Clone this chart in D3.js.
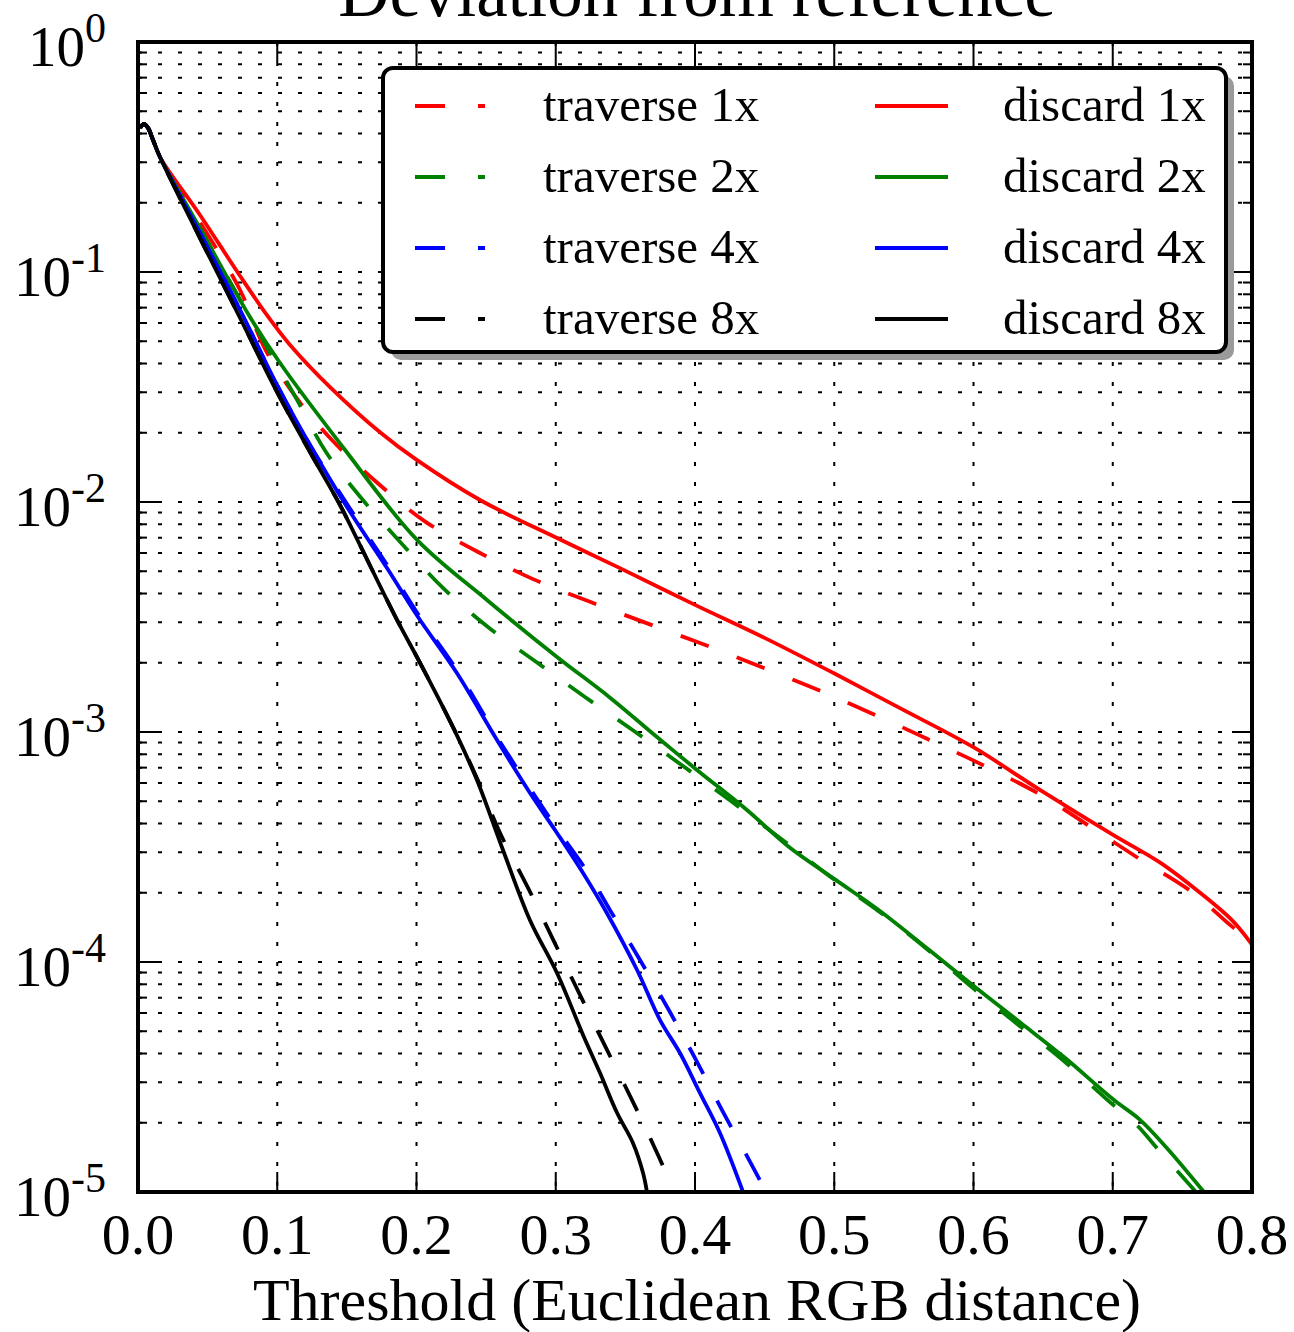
<!DOCTYPE html>
<html>
<head>
<meta charset="utf-8">
<script src="https://cdn.jsdelivr.net/npm/d3@7"></script>
<style>
  body { margin: 0; background: #fff; }
  svg text { font-family: "Liberation Serif", "Times New Roman", serif; fill: #000; }
</style>
</head>
<body>
<svg id="chart"></svg>
<script>
// shared start of every curve
const head = [[0.0014, 0.423], [0.0043, 0.44], [0.0072, 0.423], [0.0108, 0.375], [0.0158, 0.316]];

const traverse1x = head.concat([
  [0.0445, 0.165], [0.0733, 0.0835], [0.0912, 0.0463], [0.1149, 0.0278], [0.1415, 0.018],
  [0.1745, 0.01174], [0.2068, 0.00818], [0.2456, 0.006], [0.2837, 0.00462], [0.3232, 0.00371],
  [0.3727, 0.00286], [0.4129, 0.00232], [0.4531, 0.00186], [0.4934, 0.00148], [0.5329, 0.00116],
  [0.5716, 0.000905], [0.6097, 0.000704], [0.6485, 0.000532], [0.6851, 0.000383], [0.7203, 0.000278],
  [0.7576, 0.0002], [0.7842, 0.000145], [0.8, 0.000122]
]);
const discard1x = head.concat([
  [0.0445, 0.177], [0.0733, 0.0961], [0.0926, 0.065], [0.1092, 0.0482], [0.1379, 0.0316],
  [0.1738, 0.0201], [0.2004, 0.0152], [0.2456, 0.0102], [0.3009, 0.00697], [0.3461, 0.00516],
  [0.4, 0.00357], [0.4503, 0.00256], [0.4998, 0.0018], [0.5472, 0.00127], [0.5996, 0.000861],
  [0.6477, 0.00056], [0.7002, 0.000357], [0.7346, 0.000269], [0.7627, 0.0002], [0.7856, 0.000152],
  [0.8, 0.000119]
]);
const traverse2x = head.concat([
  [0.0445, 0.155], [0.0804, 0.0637], [0.102, 0.0375], [0.1142, 0.0278], [0.135, 0.0165],
  [0.1609, 0.0103], [0.1896, 0.00657], [0.219, 0.00423], [0.2513, 0.00286], [0.2858, 0.00202],
  [0.321, 0.00142], [0.3562, 0.00101], [0.3914, 0.000711], [0.4258, 0.000501], [0.4675, 0.000323],
  [0.5013, 0.000225], [0.5321, 0.000166], [0.568, 0.000112], [0.5996, 0.000077], [0.6327, 0.000053],
  [0.6636, 0.0000377], [0.698, 0.0000246], [0.7167, 0.0000197], [0.7339, 0.000015], [0.7598, 0.00001]
]);
const discard2x = head.concat([
  [0.0445, 0.155], [0.0804, 0.0637], [0.102, 0.0402], [0.1472, 0.0173], [0.2004, 0.00684],
  [0.2506, 0.00375], [0.3009, 0.00212], [0.339, 0.00141], [0.3727, 0.000951], [0.4014, 0.000684],
  [0.4373, 0.000458], [0.4675, 0.000316], [0.5013, 0.000227], [0.5321, 0.000168], [0.568, 0.000113],
  [0.6011, 0.0000779], [0.6341, 0.0000543], [0.665, 0.0000386], [0.7009, 0.0000251], [0.7196, 0.0000206],
  [0.7382, 0.0000157], [0.7655, 0.00001]
]);
const traverse4x = head.concat([
  [0.0445, 0.1478], [0.0733, 0.0684], [0.0998, 0.0323], [0.1235, 0.0177], [0.1515, 0.00951],
  [0.1803, 0.00516], [0.2025, 0.00316], [0.2305, 0.0018], [0.2592, 0.000923], [0.2837, 0.000543],
  [0.303, 0.000364], [0.3232, 0.000244], [0.339, 0.000168], [0.3605, 0.000102], [0.382, 0.0000606],
  [0.4007, 0.0000375], [0.4194, 0.0000227], [0.4388, 0.0000138], [0.451, 0.00001]
]);
const discard4x = head.concat([
  [0.0445, 0.1478], [0.0733, 0.0684], [0.0998, 0.0323], [0.1235, 0.0177], [0.1501, 0.00951],
  [0.1788, 0.00516], [0.2011, 0.00316], [0.2291, 0.0018], [0.2578, 0.000923], [0.2815, 0.000543],
  [0.3009, 0.000364], [0.3196, 0.000244], [0.3368, 0.000163], [0.3584, 0.0000923], [0.3749, 0.0000559],
  [0.3892, 0.0000402], [0.4036, 0.0000269], [0.418, 0.000018], [0.4345, 0.00001]
]);
const traverse8x = head.concat([
  [0.0445, 0.1405], [0.0733, 0.0631], [0.0998, 0.0301], [0.1235, 0.0165], [0.1451, 0.0097],
  [0.1594, 0.0065], [0.186, 0.00307], [0.2025, 0.002], [0.2262, 0.00105], [0.2434, 0.000631],
  [0.26, 0.000364], [0.2801, 0.00021], [0.2987, 0.000123], [0.3174, 0.0000719], [0.3361, 0.0000423],
  [0.3555, 0.0000246], [0.3741, 0.0000142], [0.3849, 0.00001]
]);
const discard8x = head.concat([
  [0.0445, 0.1405], [0.0733, 0.0631], [0.0998, 0.0301], [0.1235, 0.0165], [0.1451, 0.0097],
  [0.1594, 0.0065], [0.186, 0.00307], [0.2025, 0.002], [0.2262, 0.00105], [0.2434, 0.000618],
  [0.2621, 0.000307], [0.2815, 0.000152], [0.3009, 0.0000896], [0.3196, 0.0000482], [0.3318, 0.0000329],
  [0.344, 0.0000221], [0.3555, 0.0000163], [0.3627, 0.0000121], [0.3655, 0.00001]
]);

const seriesNames = ['traverse 1x', 'discard 1x', 'traverse 2x', 'discard 2x',
  'traverse 4x', 'discard 4x', 'traverse 8x', 'discard 8x'];
const seriesData = [traverse1x, discard1x, traverse2x, discard2x, traverse4x, discard4x, traverse8x, discard8x];
const seriesColors = ['#ff0000', '#ff0000', '#008000', '#008000', '#0000ff', '#0000ff', '#000000', '#000000'];
const seriesDashed = [true, false, true, false, true, false, true, false];

const xTicks = [0, 0.1, 0.2, 0.3, 0.4, 0.5, 0.6, 0.7, 0.8];
const yMajor = [1, 1e-1, 1e-2, 1e-3, 1e-4, 1e-5];

const titleText = 'Deviation from reference';
const xLabel = 'Threshold (Euclidean RGB distance)';

const W = 1294, H = 1332;
const margin = { top: 42, right: 42, bottom: 140, left: 138 };

const svg = d3.select('#chart').attr('width', W).attr('height', H);

const x = d3.scaleLinear().domain([0, 0.8]).range([margin.left, W - margin.right]);
const y = d3.scaleLog().domain([1e-5, 1]).range([H - margin.bottom, margin.top]);
const [x0, x1] = x.range();
const [y0, y1] = [y.range()[1], y.range()[0]];

svg.append('defs').append('clipPath').attr('id', 'plot')
  .append('rect').attr('x', x0).attr('y', y0).attr('width', x1 - x0).attr('height', y1 - y0);

/* grid */
const yAll = y.ticks();
svg.append('g').selectAll('line').data(yAll).enter().append('line')
  .attr('x1', x0).attr('x2', x1)
  .attr('y1', d => y(d)).attr('y2', d => y(d))
  .attr('stroke', '#000').attr('stroke-width', 2).attr('stroke-dasharray', '4,16');
svg.append('g').selectAll('line').data(xTicks.slice(1, -1)).enter().append('line')
  .attr('x1', d => x(d)).attr('x2', d => x(d))
  .attr('y1', y0).attr('y2', y1)
  .attr('stroke', '#000').attr('stroke-width', 2).attr('stroke-dasharray', '4,16');

/* curves */
const line = d3.line().x(d => x(d[0])).y(d => y(d[1])).curve(d3.curveCatmullRom.alpha(0.5));
svg.append('g').attr('clip-path', 'url(#plot)')
  .selectAll('path').data(seriesData).enter().append('path')
  .attr('d', line)
  .attr('fill', 'none')
  .attr('stroke', (d, i) => seriesColors[i])
  .attr('stroke-width', 3.8)
  .attr('stroke-dasharray', (d, i) => seriesDashed[i] ? '30,30' : null);

/* ticks */
const isMajor = v => Math.abs(Math.log10(v) - Math.round(Math.log10(v))) < 1e-6;
const tg = svg.append('g').attr('stroke', '#000').attr('stroke-width', 2);
yAll.forEach(v => {
  const len = isMajor(v) ? 20 : 9;
  tg.append('line').attr('x1', x0).attr('x2', x0 + len).attr('y1', y(v)).attr('y2', y(v));
  tg.append('line').attr('x1', x1).attr('x2', x1 - len).attr('y1', y(v)).attr('y2', y(v));
});
xTicks.forEach(v => {
  tg.append('line').attr('x1', x(v)).attr('x2', x(v)).attr('y1', y1).attr('y2', y1 - 20);
  tg.append('line').attr('x1', x(v)).attr('x2', x(v)).attr('y1', y0).attr('y2', y0 + 20);
});

/* frame */
svg.append('rect').attr('x', x0).attr('y', y0).attr('width', x1 - x0).attr('height', y1 - y0)
  .attr('fill', 'none').attr('stroke', '#000').attr('stroke-width', 4);

/* tick labels */
svg.append('g').selectAll('text').data(xTicks).enter().append('text')
  .attr('x', d => x(d)).attr('y', y1 + 62)
  .attr('text-anchor', 'middle').attr('font-size', 58)
  .text(d => d3.format('.1f')(d));

const yl = svg.append('g').selectAll('text').data(yMajor).enter().append('text')
  .attr('x', 106).attr('y', d => y(d) + 24)
  .attr('text-anchor', 'end').attr('font-size', 57);
yl.append('tspan').text('10');
yl.append('tspan').attr('dy', -24).attr('font-size', 42)
  .text(d => String(Math.round(Math.log10(d))));

/* axis label + title (title sits partly above the page, as in the original) */
svg.append('text').attr('x', (x0 + x1) / 2 + 2).attr('y', 1320)
  .attr('text-anchor', 'middle').attr('font-size', 60).text(xLabel);
svg.append('text').attr('x', (x0 + x1) / 2 + 2).attr('y', 16)
  .attr('text-anchor', 'middle').attr('font-size', 71).text(titleText);

/* legend */
const lg = { x: 383, y: 68, w: 843, h: 284 };
svg.append('rect').attr('x', lg.x + 8).attr('y', lg.y + 8).attr('width', lg.w).attr('height', lg.h)
  .attr('rx', 10).attr('fill', '#9a9a9a');
svg.append('rect').attr('x', lg.x).attr('y', lg.y).attr('width', lg.w).attr('height', lg.h)
  .attr('rx', 10).attr('fill', '#fff').attr('stroke', '#000').attr('stroke-width', 4);

const leg = svg.append('g').selectAll('g').data(seriesNames).enter().append('g')
  .attr('transform', (d, i) => {
    const col = seriesDashed[i] ? 0 : 1;
    const row = Math.floor(i / 2);
    return `translate(${col ? 875 : 415},${106 + row * 71})`;
  });
leg.append('line').attr('x1', 0).attr('x2', (d, i) => seriesDashed[i] ? 70 : 73)
  .attr('stroke', (d, i) => seriesColors[i]).attr('stroke-width', 4)
  .attr('stroke-dasharray', (d, i) => seriesDashed[i] ? '30,33' : null);
leg.append('text').attr('x', 128).attr('y', 15)
  .attr('font-size', 49).text(d => d);
</script>
</body>
</html>
